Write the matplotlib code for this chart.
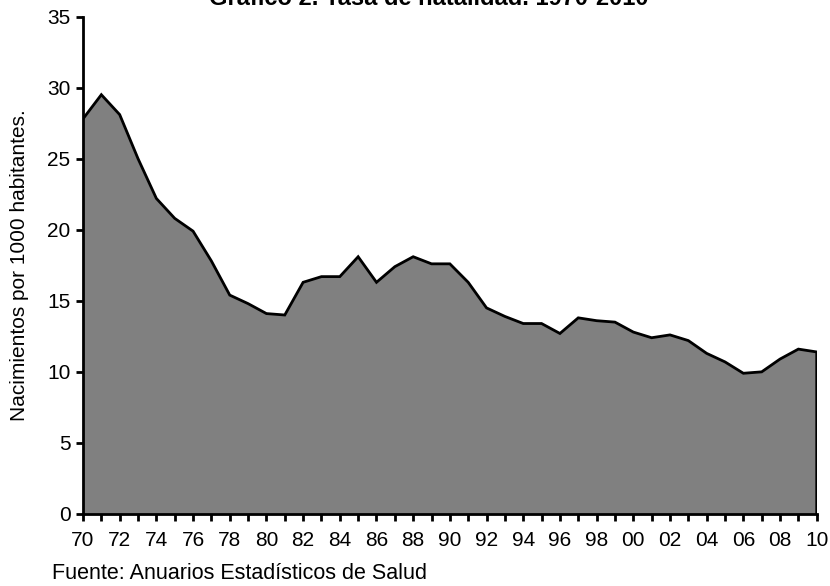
import numpy as np
import matplotlib
matplotlib.use("Agg")
import matplotlib.pyplot as plt

plt.rcParams['font.family'] = ['Liberation Sans', 'DejaVu Sans']

# Tasa de natalidad (nacimientos por 1000 habitantes), 1970-2010
years = list(range(1970, 2011))
rate = [27.8, 29.5, 28.1, 25.0, 22.2, 20.8, 19.9, 17.8, 15.4, 14.8,
        14.1, 14.0, 16.3, 16.7, 16.7, 18.1, 16.3, 17.4, 18.1, 17.6,
        17.6, 16.3, 14.5, 13.9, 13.4, 13.4, 12.7, 13.8, 13.6, 13.5,
        12.8, 12.4, 12.6, 12.2, 11.3, 10.7, 9.9, 10.0, 10.9, 11.6,
        11.4]
label_years = years[::2]
tick_labels = ["%02d" % (y % 100) for y in label_years]
y_ticks = [0, 5, 10, 15, 20, 25, 30, 35]

title = "Gráfico 2. Tasa de natalidad. 1970-2010"
ylabel = "Nacimientos por 1000 habitantes."
source = "Fuente: Anuarios Estadísticos de Salud"

fig = plt.figure(figsize=(8.3, 5.86), dpi=100)
ax = fig.add_axes([0.1, 0.1229, 0.884, 0.8489])

ax.fill_between(years, rate, 0, facecolor="#808080", edgecolor="none")
ax.plot(years + [years[-1]], rate + [0], color="black", lw=2, solid_joinstyle="miter")

ax.set_xlim(years[0], years[-1])
ax.set_ylim(0, 35)
ax.set_xticks(years, minor=True)
ax.set_xticks(label_years)
ax.set_xticklabels(tick_labels)
ax.set_yticks(y_ticks)

for s in ["top", "right"]:
    ax.spines[s].set_visible(False)
for s in ["left", "bottom"]:
    ax.spines[s].set_linewidth(2)

ax.tick_params(axis="both", which="both", direction="out", width=2, length=5,
               labelsize=15, colors="black")
ax.tick_params(axis="x", pad=7)
ax.tick_params(axis="y", pad=4)

ax.set_ylabel(ylabel, fontsize=15, labelpad=13)
fig.text(0.516, 1 - 5 / 586, title, ha="center", va="baseline", fontsize=17, fontweight="bold")
fig.text(52 / 830, 0.022, source, ha="left", va="center", fontsize=15.5)

fig.savefig("out.png", dpi=100)
